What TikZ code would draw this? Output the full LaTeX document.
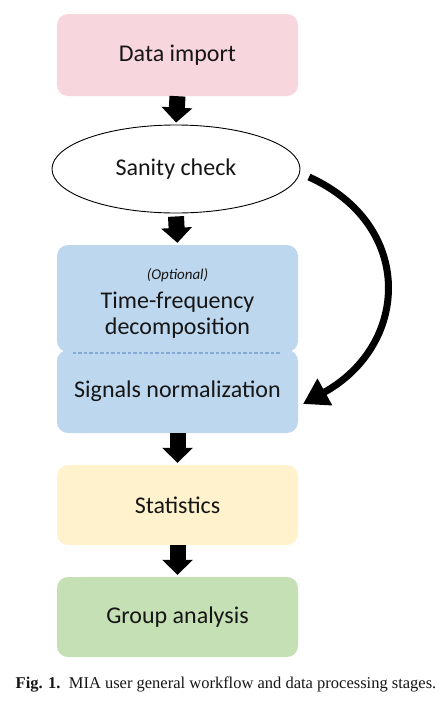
\documentclass[tikz,border=0pt]{standalone}
\usepackage{fontspec}
\setmainfont{Carlito}
\newfontfamily\capfont{Liberation Serif}
\usetikzlibrary{shapes.geometric,arrows.meta}
\definecolor{pinkfill}{HTML}{F7D6DD}
\definecolor{bluefill}{HTML}{BDD7EE}
\definecolor{yellowfill}{HTML}{FFF2CC}
\definecolor{greenfill}{HTML}{C5E0B4}
\definecolor{dashblue}{HTML}{82A9DA}
\definecolor{txt}{HTML}{161616}
\begin{document}
\begin{tikzpicture}[x=1pt,y=-1pt,
  stagebox/.style={rounded corners=11pt, minimum width=241pt, inner sep=0pt, text=txt, font=\fontsize{24}{28}\selectfont, align=center},
  blockarrow/.style={line width=16pt, -{Triangle[length=15pt,width=30pt]}, shorten >=2pt},
  bigcurve/.style={line width=7pt, -{Triangle[length=25pt,width=29pt]}}
]
\useasboundingbox (0,0) rectangle (442,707);
\node[stagebox, fill=pinkfill, minimum height=82pt] (imp) at (177.5,55) {Data import};
\node[ellipse, draw=black, line width=0.9pt, minimum width=248pt, minimum height=88pt, inner sep=0pt, text=txt, font=\fontsize{24}{28}\selectfont] (san) at (176,169) {Sanity check};
\node[stagebox, fill=bluefill, minimum height=107pt] (tf) at (177.5,298.5) {};
\node[stagebox, fill=bluefill, minimum height=83pt] (norm) at (177.5,391.5) {Signals normalization};
\node[text=txt, font=\fontsize{15}{17}\selectfont\itshape] (opt) at (177.5,275) {(Optional)};
\node[text=txt, font=\fontsize{24}{26}\selectfont, align=center] (tft) at (177.5,315) {Time-frequency\\decomposition};
\node[stagebox, fill=yellowfill, minimum height=80pt] (stat) at (177.5,505) {Statistics};
\node[stagebox, fill=greenfill, minimum height=80pt] (grp) at (177.5,617) {Group analysis};
\draw[dashblue, line width=1.5pt, dash pattern=on 3.5pt off 2pt] ([xshift=16pt,yshift=-1pt]tf.south west) coordinate (dl) -- ([xshift=-18pt,yshift=-1pt]tf.south east) coordinate (dr);
\draw[blockarrow] (imp.south) -- (san.north);
\draw[blockarrow] ([yshift=-3pt]san.south) -- (tf.north);
\draw[blockarrow] (norm.south) -- (stat.north);
\draw[blockarrow] (stat.south) -- (grp.north);
\coordinate (cs) at (309,177);
\coordinate (ce) at (303,404);
\draw[bigcurve] (cs) .. controls (415,225) and (410,345) .. (ce);
\node[font=\capfont\fontsize{16.5}{19}\selectfont, text=txt] (cap) at (226,685) {\textbf{Fig. 1.}\ \ MIA user general workflow and data processing stages.};
\end{tikzpicture}
\end{document}
